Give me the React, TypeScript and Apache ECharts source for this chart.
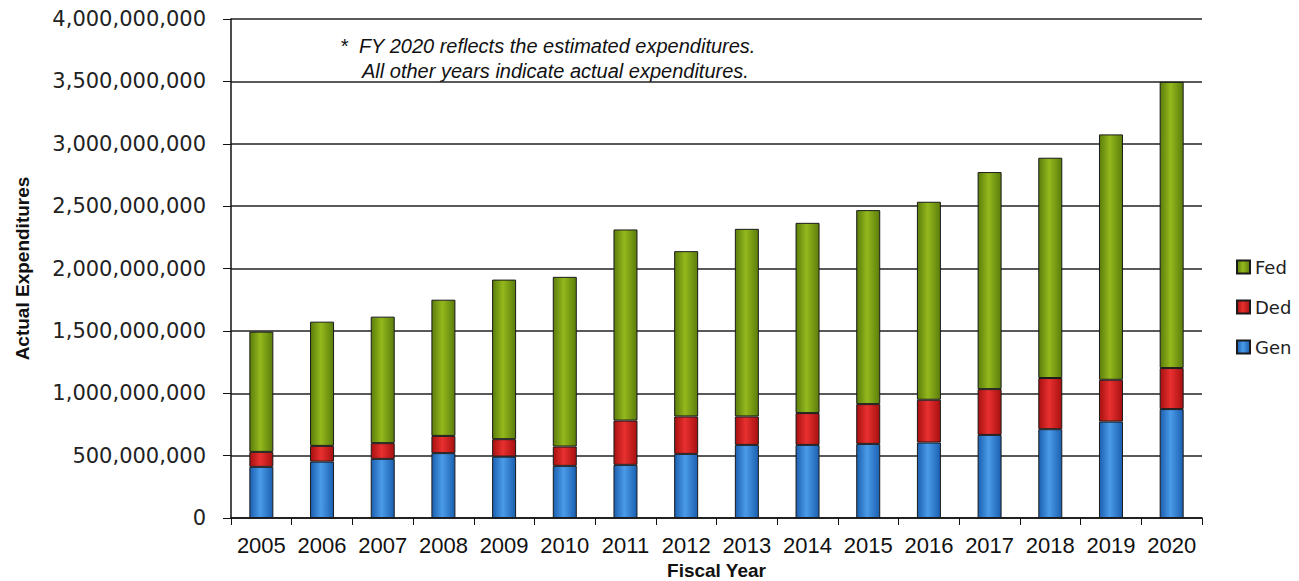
import React, { useEffect, useRef } from "react";
import * as echarts from "echarts";

const years = ["2005","2006","2007","2008","2009","2010","2011","2012","2013","2014","2015","2016","2017","2018","2019","2020"];
const gen = [410, 452, 474, 520, 492, 418, 426, 514, 586, 586, 594, 605, 666, 712, 773, 873].map(v => v * 1e6);
const ded = [120, 126, 126, 138, 140, 155, 355, 300, 228, 255, 319, 343, 367, 410, 335, 329].map(v => v * 1e6);
const fed = [964, 996, 1014, 1092, 1279, 1360, 1532, 1325, 1504, 1525, 1555, 1587, 1740, 1766, 1967, 2294].map(v => v * 1e6);
const noteLines = ["*  FY 2020 reflects the estimated expenditures.", "All other years indicate actual expenditures."];

const grad = (dark: string, light: string) =>
  new echarts.graphic.LinearGradient(0, 0, 1, 0, [
    { offset: 0, color: dark },
    { offset: 0.45, color: light },
    { offset: 1, color: dark },
  ]);

export default function App() {
  const ref = useRef<HTMLDivElement>(null);
  useEffect(() => {
    const chart = echarts.init(ref.current!, null, { renderer: "svg" });
    const fmt = (v: number) => v.toLocaleString("en-US");
    chart.setOption({
      animation: false,
      backgroundColor: "#ffffff",
      grid: { left: 231, right: 97, top: 19, bottom: 63, containLabel: false, outerBoundsMode: "none" },
      legend: {
        data: ["Fed", "Ded", "Gen"],
        orient: "vertical",
        left: 1231,
        top: 253,
        itemWidth: 13,
        itemHeight: 13,
        itemGap: 22,
        icon: "rect",
        textStyle: { fontFamily: "DejaVu Sans", fontSize: 18, color: "#222" },
      },
      graphic: [
        {
          type: "text",
          left: 340,
          top: 36,
          style: { text: noteLines[0], font: "italic 20px 'Liberation Sans'", fill: "#111" },
        },
        {
          type: "text",
          left: 362,
          top: 61,
          style: { text: noteLines[1], font: "italic 20px 'Liberation Sans'", fill: "#111" },
        },
      ],
      xAxis: {
        type: "category",
        data: years,
        name: "Fiscal Year",
        nameLocation: "middle",
        nameGap: 39,
        nameTextStyle: { fontFamily: "Liberation Sans", fontWeight: "bold", fontSize: 19, lineHeight: 19, color: "#111" },
        axisLine: { lineStyle: { color: "#111", width: 1.5 } },
        axisTick: { show: true, inside: false, length: 7, lineStyle: { color: "#111" } },
        axisLabel: { interval: 0, fontFamily: "Liberation Sans", fontSize: 22, color: "#111", margin: 16 },
      },
      yAxis: {
        type: "value",
        min: 0,
        max: 4000000000,
        interval: 500000000,
        name: "Actual Expenditures",
        nameLocation: "middle",
        nameGap: 199,
        nameRotate: 90,
        nameTextStyle: { fontFamily: "Liberation Sans", fontWeight: "bold", fontSize: 19, color: "#111" },
        axisLine: { show: true, lineStyle: { color: "#111", width: 1.5 } },
        axisTick: { show: true, inside: false, length: 8, lineStyle: { color: "#111" } },
        axisLabel: { fontFamily: "DejaVu Sans", fontSize: 21, color: "#222", margin: 25, formatter: fmt },
        splitLine: { show: true, lineStyle: { color: "#222", width: 1.5 } },
      },
      series: [
        {
          name: "Gen",
          type: "bar",
          stack: "total",
          data: gen,
          barWidth: 24,
          itemStyle: { color: grad("#1b5fb0", "#4a9be8"), borderColor: "#1a1a1a", borderWidth: 1 },
        },
        {
          name: "Ded",
          type: "bar",
          stack: "total",
          data: ded,
          barWidth: 24,
          itemStyle: { color: grad("#a81010", "#e83030"), borderColor: "#1a1a1a", borderWidth: 1 },
        },
        {
          name: "Fed",
          type: "bar",
          stack: "total",
          data: fed,
          barWidth: 24,
          itemStyle: { color: grad("#5b7d0c", "#94b81c"), borderColor: "#1a1a1a", borderWidth: 1 },
        },
      ],
    });
    return () => chart.dispose();
  }, []);
  return <div ref={ref} style={{ width: 1299, height: 581, position: "absolute", left: 0, top: 0 }} />;
}
